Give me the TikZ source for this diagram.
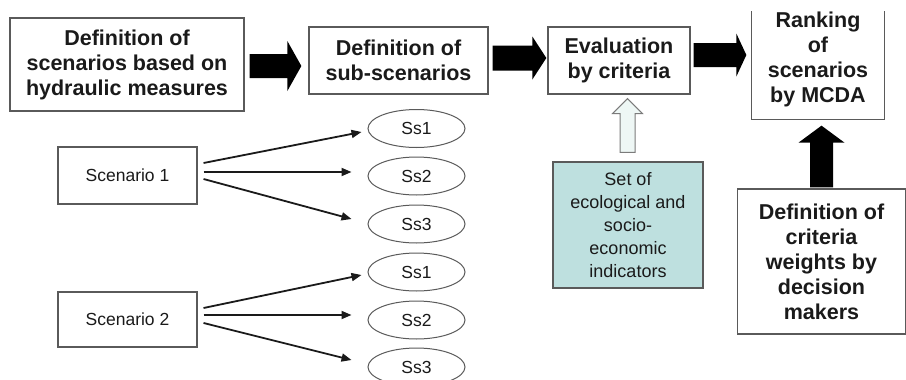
\documentclass[tikz,border=0pt]{standalone}
\usepackage{fontspec}
\setmainfont{Liberation Sans}
\usetikzlibrary{calc,arrows.meta,shapes.geometric}

\definecolor{ink}{HTML}{1A1A1A}
\definecolor{edge}{HTML}{5A5A5A}
\definecolor{tealfill}{HTML}{BEE0DF}
\definecolor{palefill}{HTML}{EEF7F5}

\tikzset{
  bigbox/.style={draw=edge, line width=1.3pt, fill=white, inner sep=0pt,
    align=center, text=ink, font=\bfseries\fontsize{21.5}{25}\selectfont},
  scenbox/.style={draw=edge, line width=1.1pt, fill=white, inner sep=0pt,
    minimum width=139pt, text=ink, font=\fontsize{17.5}{21}\selectfont},
  subell/.style={ellipse, draw=edge, line width=1pt, inner sep=0pt,
    minimum width=97pt, minimum height=38pt, text=ink, font=\fontsize{17.5}{21}\selectfont},
  indbox/.style={draw=edge, line width=1.1pt, fill=tealfill, inner sep=0pt,
    align=center, text=ink, font=\fontsize{18}{23}\selectfont},
  thinarrow/.style={draw=ink, line width=1.8pt, -{Triangle[length=10pt,width=8pt]}},
  fatarrow/.style={fill=black},
  palearrow/.style={fill=palefill, draw=edge!80, line width=1pt},
}

% horizontal block arrow: tail, tip, shaft half-width, head half-width, head length
\newcommand\fatright[6][fatarrow]{%
  \path[#1] let \p1=(#2), \p2=(#3) in
    (\x1,{\y1+#4pt}) -- ({\x2-#6pt},{\y1+#4pt}) -- ({\x2-#6pt},{\y1+#5pt}) --
    (\x2,\y1) -- ({\x2-#6pt},{\y1-#5pt}) -- ({\x2-#6pt},{\y1-#4pt}) --
    (\x1,{\y1-#4pt}) -- cycle;}
% vertical block arrow pointing up
\newcommand\fatup[6][fatarrow]{%
  \path[#1] let \p1=(#2), \p2=(#3) in
    ({\x1-#4pt},\y1) -- ({\x1-#4pt},{\y2-#6pt}) -- ({\x1-#5pt},{\y2-#6pt}) --
    (\x1,\y2) -- ({\x1+#5pt},{\y2-#6pt}) -- ({\x1+#4pt},{\y2-#6pt}) --
    ({\x1+#4pt},\y1) -- cycle;}

\begin{document}
\begin{tikzpicture}[x=1pt,y=-1pt]
\useasboundingbox[fill=white] (0,0) rectangle (906,380);

% process chain along the top
\node[bigbox, minimum width=234pt, minimum height=93pt] (def) at (127,64.5)
  {Definition of\\scenarios based on\\hydraulic measures};
\node[bigbox, minimum width=179pt, minimum height=67pt] (sub) at (398.5,60.5)
  {Definition of\\sub-scenarios};
\node[bigbox, minimum width=142pt, minimum height=67pt] (eval) at (619,60.5)
  {Evaluation\\by criteria};
\node[bigbox, draw=none, minimum width=132pt, minimum height=119pt] (rank) at (818,59.5)
  {Ranking\\of\\scenarios\\by MCDA};
\draw[edge, line width=1.3pt] ($(rank.north west)+(0,12)$) |- (rank.south east)
  -- ($(rank.north east)+(0,12)$);

% inputs from below
\node[indbox, minimum width=150pt, minimum height=126pt] (ind) at (628,225)
  {Set of\\ecological and\\socio-\\economic\\indicators};
\node[bigbox, minimum width=168pt, minimum height=145pt] (wts) at (821.5,261.5)
  {Definition of\\criteria\\weights by\\decision\\makers};

% block arrows
\fatright{$(def.east)+(5,1.5)$}{$(sub.west)+(-7,0)$}{12}{25}{14}
\fatright{$(sub.east)+(4,-2.5)$}{$(eval.west)+(-1,0)$}{12.5}{21.5}{14}
\fatright{$(eval.east)+(3,-5.5)$}{$(rank.west)+(-5,0)$}{12}{21.5}{10}
\fatup[palearrow]{$(ind.north)+(-0.5,-9)$}{$(eval.south)+(0,4)$}{7.5}{15}{15}
\fatup{$(wts.north)+(0,-1)$}{$(rank.south)+(0,6)$}{11.5}{23}{17}

% scenarios and their sub-scenarios
\node[scenbox, minimum height=57pt] (s1) at (127.5,175.5) {Scenario 1};
\node[scenbox, minimum height=55pt] (s2) at (127.5,319.5) {Scenario 2};

\node[subell] (a1) at (416.5,128.5) {Ss1};
\node[subell] (a2) at (416.5,176) {Ss2};
\node[subell] (a3) at (416.5,224) {Ss3};
\node[subell] (b1) at (416.5,272) {Ss1};
\node[subell] (b2) at (416.5,320) {Ss2};
\node[subell] (b3) at (416.5,367) {Ss3};

\draw[thinarrow] ($(s1.east)+(6,-12.5)$) -- ($(a1.west)+(-6,3.5)$);
\draw[thinarrow] ($(s1.east)+(6,-3.5)$) -- ($(a2.west)+(-16,-4)$);
\draw[thinarrow] ($(s1.east)+(6,3.5)$) -- ($(a3.west)+(-16,-5)$);
\draw[thinarrow] ($(s2.east)+(6,-11.5)$) -- ($(b1.west)+(-6,3)$);
\draw[thinarrow] ($(s2.east)+(6,-4.5)$) -- ($(b2.west)+(-16,-5)$);
\draw[thinarrow] ($(s2.east)+(6,3.5)$) -- ($(b3.west)+(-16,-7)$);
\end{tikzpicture}
\end{document}
